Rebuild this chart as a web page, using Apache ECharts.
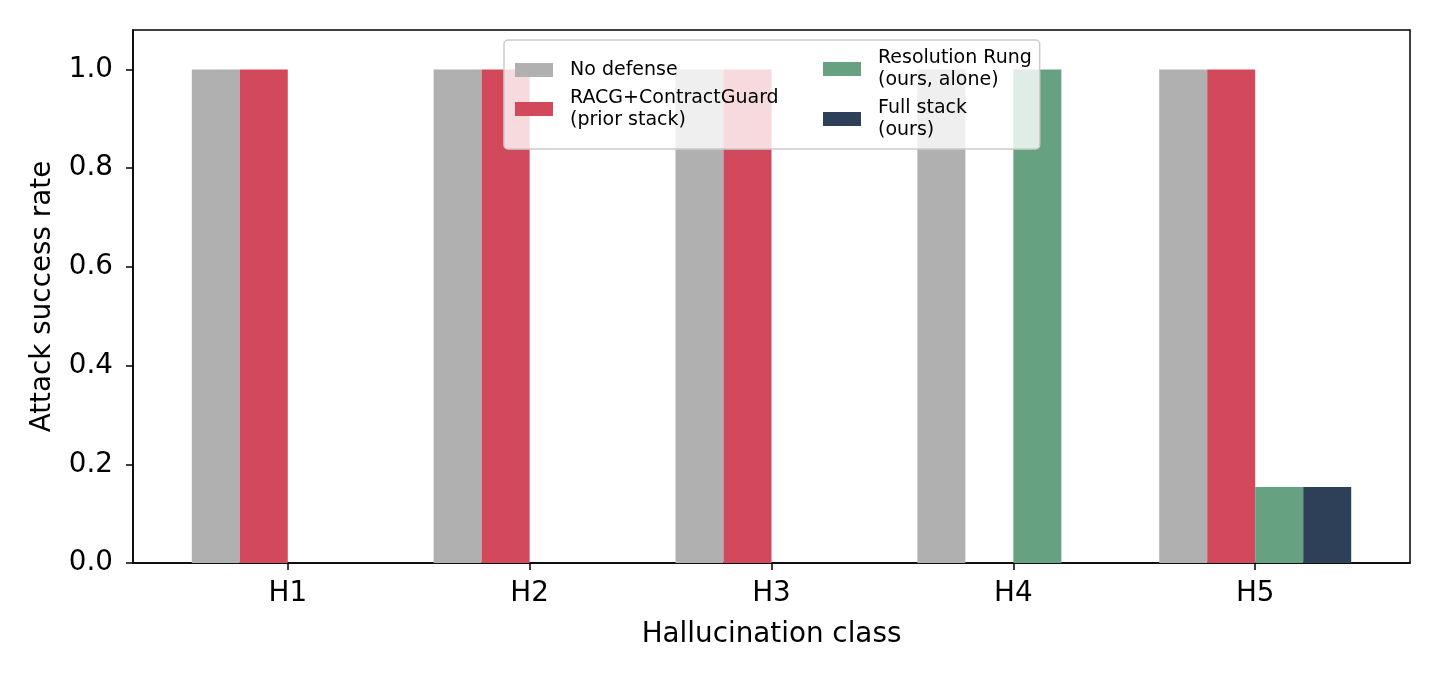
<!DOCTYPE html>
<html lang="en">
<head>
    <meta charset="UTF-8">
    <title>Attack success rate by hallucination class</title>
    <script src="https://cdn.jsdelivr.net/npm/echarts@6/dist/echarts.min.js"></script>
    <style>
        body { margin: 0; background: #fff; }
        #main { width: 1440px; height: 680px; }
    </style>
</head>
<body>
    <div id="main"></div>
    <script type="text/javascript">
        // data
        var categories = ['H1', 'H2', 'H3', 'H4', 'H5'];
        var noDefense = [1.0, 1.0, 1.0, 1.0, 1.0];
        var priorStack = [1.0, 1.0, 1.0, 0.0, 1.0];
        var rungAlone = [0.0, 0.0, 0.0, 1.0, 0.154];
        var fullStack = [0.0, 0.0, 0.0, 0.0, 0.154];
        var yTicks = [0, 0.2, 0.4, 0.6, 0.8, 1.0];
        var seriesNames = ['No defense', 'RACG+ContractGuard', 'Resolution Rung', 'Full stack'];
        var legendLabels = ['No defense', 'RACG+ContractGuard\n(prior stack)', 'Resolution Rung\n(ours, alone)', 'Full stack\n(ours)'];
        var colors = ['#b0b0b0', '#d1495b', '#66a182', '#2e4057'];

        var font = 'DejaVu Sans';
        var axisFont = 27.8;
        var catIdx = categories.map(function (c, i) { return i; });

        function pairs(vals) {
            return vals.map(function (v, i) { return [i, v]; });
        }
        function legendFmt(name) {
            return legendLabels[seriesNames.indexOf(name)];
        }

        var allVals = [noDefense, priorStack, rungAlone, fullStack];
        var series = allVals.map(function (vals, k) {
            return {
                name: seriesNames[k],
                type: 'bar',
                data: pairs(vals),
                barWidth: 48,
                barGap: '0%',
                itemStyle: { color: colors[k] },
                z: 2
            };
        });

        var legendText = {
            fontFamily: font, fontSize: 19, color: '#000',
            lineHeight: 22, padding: [0, 0, 0, 12]
        };
        var axisText = { fontFamily: font, fontSize: axisFont, color: '#000' };

        var myChart = echarts.init(document.getElementById('main'));
        myChart.setOption({
            animation: false,
            color: colors,
            grid: {
                left: 133, right: 30, top: 30, bottom: 117,
                show: true, borderColor: '#000', borderWidth: 1.5,
                backgroundColor: 'transparent'
            },
            legend: [
                {
                    data: seriesNames.slice(0, 2),
                    orient: 'vertical',
                    left: 504, top: 40,
                    padding: [19, 261, 18, 11],
                    itemGap: 6,
                    itemWidth: 38, itemHeight: 14,
                    icon: 'rect',
                    formatter: legendFmt,
                    textStyle: legendText,
                    backgroundColor: 'rgba(255,255,255,0.8)',
                    borderColor: '#cccccc', borderWidth: 1.5, borderRadius: 4,
                    z: 10
                },
                {
                    data: seriesNames.slice(2),
                    orient: 'vertical',
                    left: 823, top: 47,
                    padding: 0,
                    itemGap: 6,
                    itemWidth: 38, itemHeight: 14,
                    icon: 'rect',
                    formatter: legendFmt,
                    textStyle: legendText,
                    z: 11
                }
            ],
            xAxis: {
                type: 'value',
                min: -0.64, max: 4.64,
                name: 'Hallucination class',
                nameLocation: 'middle',
                nameGap: 58,
                nameTextStyle: axisText,
                axisLine: { show: true, onZero: false, lineStyle: { color: '#000', width: 1.5 } },
                axisTick: { show: true, length: 7, inside: false, customValues: catIdx,
                    lineStyle: { color: '#000', width: 1.5 } },
                axisLabel: Object.assign({ customValues: catIdx, margin: 17,
                    formatter: function (v) { return categories[Math.round(v)]; } }, axisText),
                splitLine: { show: false }
            },
            yAxis: {
                type: 'value',
                min: 0, max: 1.08,
                name: 'Attack success rate',
                nameLocation: 'middle',
                nameGap: 76,
                nameTextStyle: axisText,
                axisLine: { show: true, onZero: false, lineStyle: { color: '#000', width: 1.5 } },
                axisTick: { show: true, length: 7, inside: false, customValues: yTicks,
                    lineStyle: { color: '#000', width: 1.5 } },
                axisLabel: Object.assign({ customValues: yTicks, margin: 20,
                    formatter: function (v) { return v.toFixed(1); } }, axisText),
                splitLine: { show: false }
            },
            series: series
        });
    </script>
</body>
</html>
